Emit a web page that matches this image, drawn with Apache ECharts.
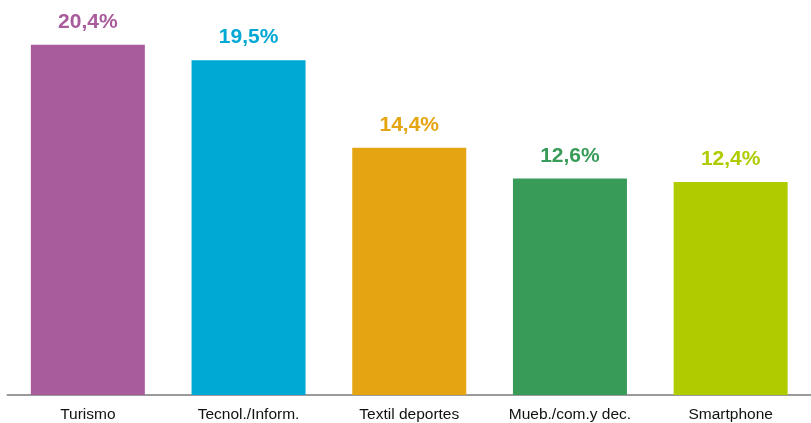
<!DOCTYPE html>
<html><head><meta charset="utf-8">
<script src="https://cdn.jsdelivr.net/npm/echarts@6/dist/echarts.min.js"></script>
<style>html,body{margin:0;padding:0;background:#fff}#c{width:811px;height:423px}</style>
</head><body><div id="c"></div>
<script>
const categories = ['Turismo', 'Tecnol./Inform.', 'Textil deportes', 'Mueb./com.y dec.', 'Smartphone'];
const values = [20.4, 19.5, 14.4, 12.6, 12.4];
const colors = ['#A85C9C', '#00A8D4', '#E5A412', '#389C58', '#B0CB00'];

const chart = echarts.init(document.getElementById('c'));
chart.setOption({
  animation: false,
  grid: { left: 7.5, top: 17.2, width: 809.5, height: 378.8 },
  xAxis: {
    type: 'category', data: categories,
    axisLine: { lineStyle: { color: '#9a9a9a', width: 2 } },
    axisTick: { show: false },
    axisLabel: { color: '#111', fontSize: 15.5, fontFamily: 'Liberation Sans, Arial, sans-serif', margin: 12 }
  },
  yAxis: { type: 'value', min: 0, max: 22, show: false, splitLine: { show: false } },
  series: [{
    type: 'bar', barWidth: 114,
    data: values.map((v, i) => ({ value: v, itemStyle: { color: colors[i] }, label: { color: colors[i] } })),
    label: {
      show: true, position: 'top', distance: 12,
      fontSize: 21, fontWeight: 'bold', fontFamily: 'Liberation Sans, Arial, sans-serif',
      formatter: p => p.value.toFixed(1).replace('.', ',') + '%'
    }
  }]
});
</script></body></html>
